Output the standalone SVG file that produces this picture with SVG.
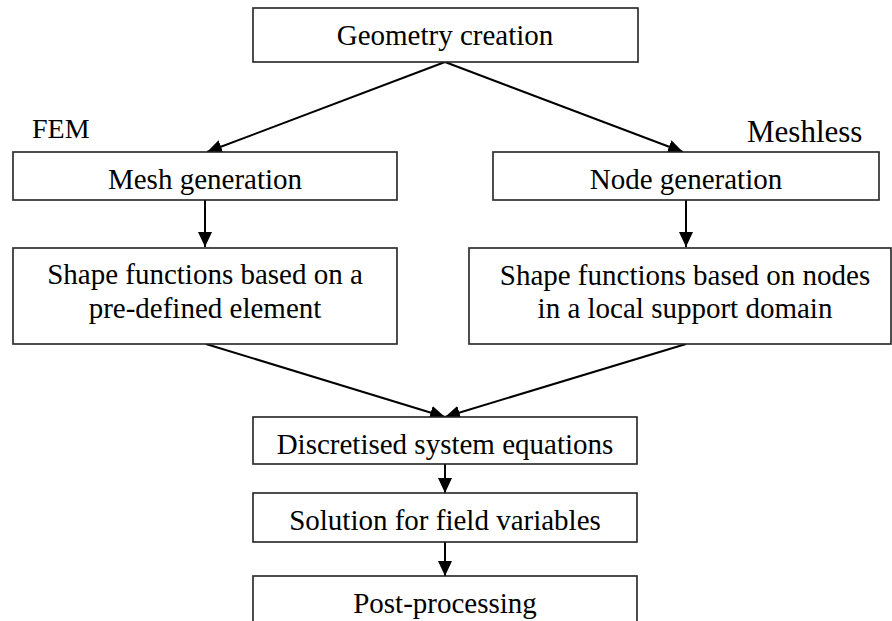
<svg xmlns="http://www.w3.org/2000/svg" width="892" height="621" viewBox="0 0 892 621">
<style>
.box{fill:#fff;stroke:#222;stroke-width:1.6}
.t{font-size:29px;fill:#000;text-anchor:middle}
.lbl{fill:#000}
.c{stroke:#000;stroke-width:2;fill:none;marker-end:url(#ah)}
</style>
<defs>
<marker id="ah" markerUnits="userSpaceOnUse" markerWidth="16" markerHeight="16" refX="15" refY="7" orient="auto" viewBox="0 0 16 14">
<path d="M0,0 L15,7 L0,14 z" fill="#000"/>
</marker>
</defs>
<rect width="892" height="621" fill="#fff"/>
<g id="connectors">
<line class="c" x1="445" y1="62" x2="207" y2="152"/>
<line class="c" x1="445" y1="62" x2="683" y2="152"/>
<line class="c" x1="205" y1="200" x2="205" y2="247"/>
<line class="c" x1="686" y1="200" x2="686" y2="247"/>
<line class="c" x1="206" y1="344" x2="445" y2="417"/>
<line class="c" x1="686" y1="344" x2="445" y2="417"/>
<line class="c" x1="445" y1="464" x2="445" y2="493"/>
<line class="c" x1="445" y1="542" x2="445" y2="576"/>
</g>
<g font-family="Liberation Serif, Times New Roman, DejaVu Serif, serif">
<g id="geometry">
<rect class="box" x="253" y="8" width="385" height="54"/>
<text class="t" x="445" y="45">Geometry creation</text>
</g>
<text id="fem-label" class="lbl" x="32" y="138" font-size="28">FEM</text>
<text id="meshless-label" class="lbl" x="747" y="142" font-size="31">Meshless</text>
<g id="mesh">
<rect class="box" x="13" y="152" width="384" height="48"/>
<text class="t" x="205" y="189">Mesh generation</text>
</g>
<g id="node">
<rect class="box" x="493" y="152" width="386" height="48"/>
<text class="t" x="686" y="189">Node generation</text>
</g>
<g id="shape-fem">
<rect class="box" x="13" y="248" width="384" height="96"/>
<text class="t" x="205" y="284">Shape functions based on a</text>
<text class="t" x="205" y="318">pre-defined element</text>
</g>
<g id="shape-meshless">
<rect class="box" x="469" y="248" width="422" height="96"/>
<text class="t" x="685" y="285">Shape functions based on nodes</text>
<text class="t" x="685" y="318">in a local support domain</text>
</g>
<g id="discretised">
<rect class="box" x="253" y="417" width="384" height="47"/>
<text class="t" x="445" y="454">Discretised system equations</text>
</g>
<g id="solution">
<rect class="box" x="253" y="493" width="384" height="49"/>
<text class="t" x="445" y="530">Solution for field variables</text>
</g>
<g id="post">
<rect class="box" x="253" y="576" width="384" height="60"/>
<text class="t" x="445" y="613">Post-processing</text>
</g>
</g>
</svg>
